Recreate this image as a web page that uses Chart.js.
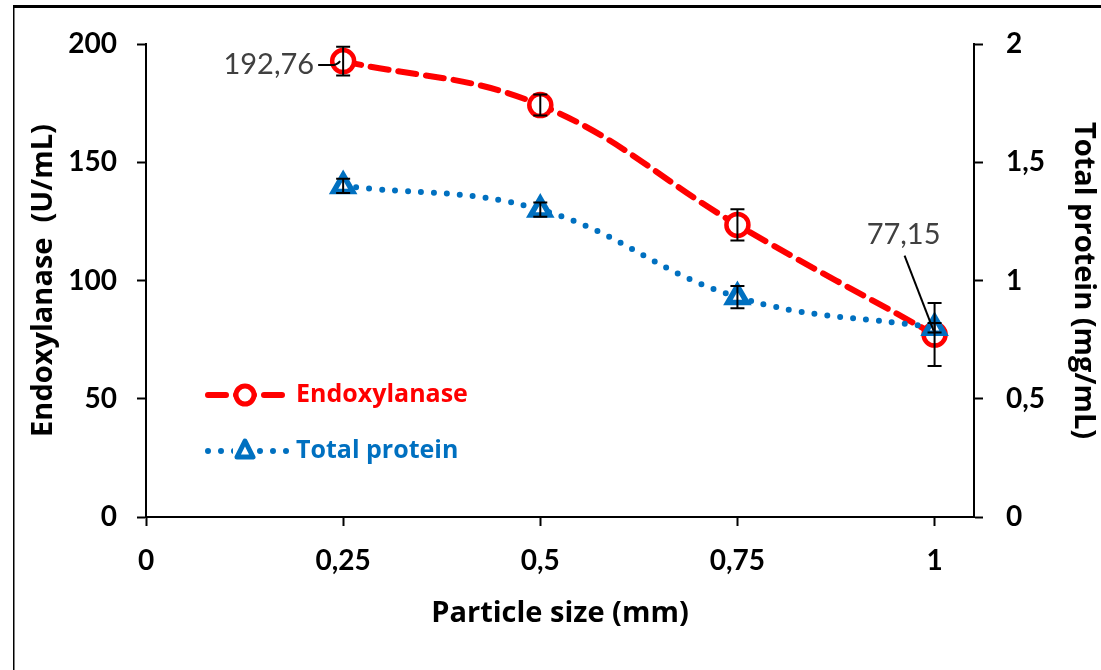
<!DOCTYPE html>
<html lang="en">
<head>
    <meta charset="UTF-8">
    <title>Endoxylanase and total protein vs particle size</title>
    <script src="https://cdn.jsdelivr.net/npm/chart.js"></script>
    <style>
        body { margin: 0; background: #fff; }
        canvas { display: block; }
    </style>
</head>
<body>
    <canvas id="sizeChart" width="1101" height="670"></canvas>

    <script>
        // data
        const particleSizes = [0.25, 0.5, 0.75, 1];
        const endoxylanase = [192.76, 174.2, 123.5, 77.15];
        const endoxylanaseErr = [6.1, 4.4, 6.6, 13.3];
        const totalProtein = [1.40, 1.30, 0.93, 0.80];
        const totalProteinErr = [0.03, 0.03, 0.047, 0.02];
        const xTicks = [0, 0.25, 0.5, 0.75, 1];
        const leftTicks = [0, 50, 100, 150, 200];
        const rightTicks = [0, 0.5, 1, 1.5, 2];

        const RED = '#FF0000';
        const BLUE = '#0070C0';

        const comma = v => String(v).replace('.', ',');

        // vertical error bars, drawn on top of the markers
        const errorBars = {
            id: 'errorBars',
            afterDatasetsDraw(chart) {
                const ctx = chart.ctx;
                ctx.save();
                ctx.strokeStyle = '#000';
                ctx.lineWidth = 2;
                chart.data.datasets.forEach((ds, i) => {
                    const meta = chart.getDatasetMeta(i);
                    const ys = chart.scales[meta.yAxisID];
                    const xs = chart.scales[meta.xAxisID];
                    ds.data.forEach((p, j) => {
                        const err = ds.errors[j];
                        const px = xs.getPixelForValue(p.x);
                        const top = ys.getPixelForValue(p.y + err);
                        const bot = ys.getPixelForValue(p.y - err);
                        ctx.beginPath();
                        ctx.moveTo(px, top); ctx.lineTo(px, bot);
                        ctx.moveTo(px - 7, top); ctx.lineTo(px + 7, top);
                        ctx.moveTo(px - 7, bot); ctx.lineTo(px + 7, bot);
                        ctx.stroke();
                    });
                });
                ctx.restore();
            }
        };

        // value labels with leader lines, the frame and the legend
        const decorations = {
            id: 'decorations',
            beforeDraw(chart) {
                const ctx = chart.ctx;
                ctx.save();
                ctx.fillStyle = '#fff';
                ctx.fillRect(0, 0, chart.width, chart.height);
                ctx.fillStyle = '#000';
                ctx.fillRect(13, 5, chart.width - 13, 3);
                ctx.fillRect(13, 5, 1.5, chart.height - 5);
                ctx.restore();
            },
            afterDraw(chart) {
                const ctx = chart.ctx;
                const xs = chart.scales.x, ys = chart.scales.y;
                ctx.save();
                ctx.font = '29px Lato';
                ctx.fillStyle = '#404040';
                ctx.strokeStyle = '#000';
                ctx.lineWidth = 2;

                // first point label
                let px = xs.getPixelForValue(particleSizes[0]);
                let py = ys.getPixelForValue(endoxylanase[0]);
                ctx.textAlign = 'right';
                ctx.textBaseline = 'middle';
                ctx.fillText(comma(endoxylanase[0]), px - 29, py + 4);
                ctx.beginPath();
                ctx.moveTo(px - 25, py + 4);
                ctx.lineTo(px - 12, py + 4);
                ctx.quadraticCurveTo(px - 6, py + 4, px - 3, py);
                ctx.stroke();

                // last point label
                px = xs.getPixelForValue(particleSizes[3]);
                py = ys.getPixelForValue(endoxylanase[3]);
                ctx.textAlign = 'center';
                ctx.fillText(comma(endoxylanase[3]), px - 31, py - 100);
                ctx.beginPath();
                ctx.moveTo(px - 30, py - 79);
                ctx.lineTo(px - 1, py - 4);
                ctx.stroke();

                // legend
                const lx = chart.chartArea.left + 59;
                ctx.font = 'bold 25px "Open Sans"';
                ctx.textAlign = 'left';
                ctx.lineCap = 'round';

                let ly = 395;
                ctx.strokeStyle = RED;
                ctx.lineWidth = 6;
                ctx.setLineDash([18, 10]);
                ctx.beginPath();
                ctx.moveTo(lx + 3, ly); ctx.lineTo(lx + 80, ly);
                ctx.stroke();
                ctx.setLineDash([]);
                ctx.fillStyle = '#fff';
                ctx.beginPath();
                ctx.arc(lx + 40, ly, 9, 0, Math.PI * 2);
                ctx.fill();
                ctx.lineWidth = 5;
                ctx.stroke();
                ctx.fillStyle = RED;
                ctx.fillText('Endoxylanase', lx + 91, ly);

                ly = 451;
                ctx.strokeStyle = BLUE;
                ctx.lineWidth = 6;
                ctx.setLineDash([0, 13]);
                ctx.beginPath();
                ctx.moveTo(lx + 3, ly); ctx.lineTo(lx + 84, ly);
                ctx.stroke();
                ctx.setLineDash([]);
                ctx.fillStyle = '#fff';
                ctx.fillRect(lx + 28, ly - 14, 24, 26);
                ctx.lineWidth = 5;
                ctx.lineJoin = 'round';
                ctx.beginPath();
                ctx.moveTo(lx + 40, ly - 10);
                ctx.lineTo(lx + 48, ly + 6);
                ctx.lineTo(lx + 32, ly + 6);
                ctx.closePath();
                ctx.stroke();
                ctx.fillStyle = BLUE;
                ctx.fillText('Total protein', lx + 91, ly);
                ctx.restore();
            }
        };

        const tickFont = { family: 'Lato', size: 28, weight: 'bold' };
        const titleFont = { family: 'Open Sans', size: 29, weight: 'bold' };
        const tickGrid = {
            drawOnChartArea: false,
            drawTicks: true,
            tickLength: 9,
            tickWidth: 2,
            color: '#000'
        };

        new Chart(document.getElementById('sizeChart'), {
            type: 'line',
            data: {
                datasets: [{
                    label: 'Endoxylanase',
                    data: particleSizes.map((x, i) => ({ x: x, y: endoxylanase[i] })),
                    errors: endoxylanaseErr,
                    yAxisID: 'y',
                    order: 2,
                    borderColor: RED,
                    borderWidth: 6,
                    borderDash: [18, 10],
                    borderCapStyle: 'round',
                    tension: 0.4,
                    pointStyle: 'circle',
                    pointRadius: 11,
                    pointBorderWidth: 4.5,
                    pointBorderColor: RED,
                    pointBackgroundColor: '#fff',
                    clip: false
                }, {
                    label: 'Total protein',
                    data: particleSizes.map((x, i) => ({ x: x, y: totalProtein[i] })),
                    errors: totalProteinErr,
                    yAxisID: 'y1',
                    order: 1,
                    borderColor: BLUE,
                    borderWidth: 6,
                    borderDash: [0, 13],
                    borderCapStyle: 'round',
                    tension: 0.4,
                    pointStyle: 'triangle',
                    pointRadius: 11,
                    pointBorderWidth: 5.5,
                    pointBorderColor: BLUE,
                    pointBackgroundColor: '#fff',
                    clip: false
                }]
            },
            options: {
                responsive: false,
                animation: false,
                layout: { padding: { top: 44, left: 0, right: 0, bottom: 0 } },
                plugins: {
                    legend: { display: false },
                    tooltip: { enabled: false }
                },
                scales: {
                    x: {
                        type: 'linear',
                        min: 0,
                        max: 1.05,
                        afterFit: s => { s.height = 153; },
                        afterBuildTicks: s => { s.ticks = xTicks.map(v => ({ value: v })); },
                        ticks: {
                            color: '#000',
                            font: tickFont,
                            padding: 18,
                            maxRotation: 0,
                            callback: v => comma(v)
                        },
                        grid: tickGrid,
                        border: { color: '#000', width: 2 },
                        title: {
                            display: true,
                            text: 'Particle size (mm)',
                            color: '#000',
                            font: titleFont,
                            padding: { top: 0, bottom: 39 }
                        }
                    },
                    y: {
                        position: 'left',
                        min: 0,
                        max: 200,
                        afterFit: s => { s.width = 146; },
                        afterBuildTicks: s => { s.ticks = leftTicks.map(v => ({ value: v })); },
                        ticks: {
                            color: '#000',
                            font: tickFont,
                            padding: 20
                        },
                        grid: tickGrid,
                        border: { color: '#000', width: 2 },
                        title: {
                            display: true,
                            text: 'Endoxylanase  (U/mL)',
                            color: '#000',
                            font: titleFont,
                            padding: { top: 26, bottom: 0 }
                        }
                    },
                    y1: {
                        position: 'right',
                        min: 0,
                        max: 2,
                        afterFit: s => { s.width = 127; },
                        afterBuildTicks: s => { s.ticks = rightTicks.map(v => ({ value: v })); },
                        ticks: {
                            color: '#000',
                            font: tickFont,
                            padding: 23,
                            callback: v => comma(v)
                        },
                        grid: tickGrid,
                        border: { color: '#000', width: 2 },
                        title: {
                            display: true,
                            text: 'Total protein (mg/mL)',
                            color: '#000',
                            font: titleFont,
                            padding: { top: 0, bottom: 0 }
                        }
                    }
                }
            },
            plugins: [errorBars, decorations]
        });
    </script>
</body>
</html>
